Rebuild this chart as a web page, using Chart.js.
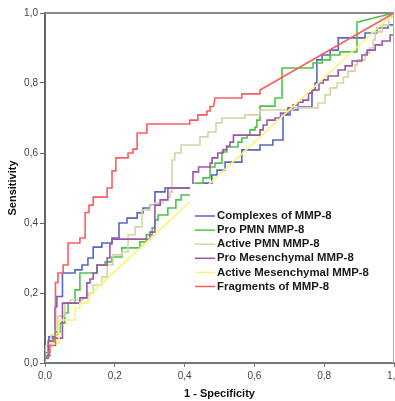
<!DOCTYPE html>
<html>
<head>
<meta charset="utf-8">
<script src="https://cdn.jsdelivr.net/npm/chart.js@4.4.1/dist/chart.umd.min.js"></script>
<style>
html, body { margin: 0; padding: 0; background: #fff; overflow: hidden; }
</style>
</head>
<body>
<canvas id="myChart" width="395" height="401"></canvas>
<script>
// ROC curves, points are [1 - specificity, sensitivity]
const seriesNames = [
    "Complexes of MMP-8",
    "Pro PMN MMP-8",
    "Active PMN MMP-8",
    "Pro Mesenchymal MMP-8",
    "Active Mesenchymal MMP-8",
    "Fragments of MMP-8",
];

const complexes = [[0,0],[0,0.02],[0.011,0.02],[0.011,0.075],[0.029,0.075],[0.029,0.16],[0.034,0.16],[0.034,0.19],[0.05,0.19],[0.05,0.257],[0.086,0.257],[0.086,0.266],[0.106,0.266],[0.106,0.28],[0.123,0.28],[0.123,0.3],[0.138,0.3],[0.138,0.331],[0.163,0.331],[0.163,0.343],[0.192,0.343],[0.192,0.357],[0.212,0.357],[0.212,0.4],[0.235,0.4],[0.235,0.414],[0.264,0.414],[0.264,0.429],[0.281,0.429],[0.281,0.443],[0.301,0.443],[0.301,0.451],[0.315,0.451],[0.315,0.489],[0.344,0.489],[0.344,0.5],[0.45,0.5],[0.45,0.514],[0.478,0.514],[0.478,0.537],[0.493,0.537],[0.493,0.551],[0.516,0.551],[0.516,0.574],[0.564,0.574],[0.564,0.609],[0.616,0.609],[0.616,0.623],[0.653,0.623],[0.653,0.637],[0.682,0.637],[0.682,0.709],[0.702,0.709],[0.702,0.723],[0.725,0.723],[0.725,0.731],[0.765,0.731],[0.765,0.78],[0.774,0.78],[0.774,0.8],[0.779,0.8],[0.779,0.866],[0.794,0.866],[0.794,0.88],[0.817,0.88],[0.817,0.894],[0.84,0.894],[0.84,0.929],[0.917,0.929],[0.917,0.943],[0.951,0.943],[0.951,0.957],[0.983,0.957],[0.983,0.966],[1,0.966],[1,1]];

const proPmn = [[0,0],[0,0.02],[0.014,0.02],[0.014,0.06],[0.029,0.06],[0.029,0.089],[0.043,0.089],[0.043,0.114],[0.057,0.114],[0.057,0.143],[0.066,0.143],[0.066,0.171],[0.086,0.171],[0.086,0.209],[0.1,0.209],[0.1,0.257],[0.149,0.257],[0.149,0.28],[0.172,0.28],[0.172,0.289],[0.192,0.289],[0.192,0.303],[0.22,0.303],[0.22,0.329],[0.272,0.329],[0.272,0.346],[0.29,0.346],[0.29,0.366],[0.307,0.366],[0.307,0.386],[0.315,0.386],[0.315,0.409],[0.324,0.409],[0.324,0.423],[0.352,0.423],[0.352,0.443],[0.375,0.443],[0.375,0.466],[0.39,0.466],[0.39,0.48],[0.43,0.48],[0.43,0.514],[0.453,0.514],[0.453,0.529],[0.473,0.529],[0.473,0.56],[0.487,0.56],[0.487,0.571],[0.507,0.571],[0.507,0.603],[0.521,0.603],[0.521,0.617],[0.553,0.617],[0.553,0.631],[0.564,0.631],[0.564,0.643],[0.579,0.643],[0.579,0.651],[0.587,0.651],[0.587,0.666],[0.602,0.666],[0.602,0.674],[0.607,0.674],[0.607,0.694],[0.616,0.694],[0.616,0.734],[0.659,0.734],[0.659,0.757],[0.679,0.757],[0.679,0.843],[0.768,0.843],[0.768,0.857],[0.794,0.857],[0.794,0.866],[0.817,0.866],[0.817,0.88],[0.845,0.88],[0.845,0.889],[0.894,0.889],[0.894,0.974],[1,1]];

const activePmn = [[0,0],[0,0.049],[0.017,0.049],[0.017,0.08],[0.037,0.08],[0.037,0.134],[0.057,0.134],[0.057,0.171],[0.072,0.171],[0.072,0.18],[0.109,0.18],[0.109,0.186],[0.123,0.186],[0.123,0.2],[0.138,0.2],[0.138,0.223],[0.163,0.223],[0.163,0.246],[0.178,0.246],[0.178,0.28],[0.195,0.28],[0.195,0.309],[0.22,0.309],[0.22,0.317],[0.238,0.317],[0.238,0.366],[0.258,0.366],[0.258,0.389],[0.278,0.389],[0.278,0.437],[0.301,0.437],[0.301,0.451],[0.315,0.451],[0.315,0.457],[0.338,0.457],[0.338,0.466],[0.352,0.466],[0.352,0.474],[0.358,0.474],[0.358,0.489],[0.364,0.489],[0.364,0.58],[0.372,0.58],[0.372,0.6],[0.39,0.6],[0.39,0.623],[0.444,0.623],[0.444,0.646],[0.467,0.646],[0.467,0.66],[0.49,0.66],[0.49,0.686],[0.507,0.686],[0.507,0.7],[0.573,0.7],[0.573,0.709],[0.616,0.709],[0.616,0.723],[0.711,0.723],[0.711,0.729],[0.782,0.729],[0.782,0.743],[0.802,0.743],[0.802,0.766],[0.817,0.766],[0.817,0.786],[0.837,0.786],[0.837,0.8],[0.855,0.8],[0.855,0.817],[0.868,0.817],[0.868,0.834],[0.888,0.834],[0.888,0.851],[0.894,0.851],[0.894,0.866],[0.917,0.866],[0.917,0.886],[0.93,0.886],[0.93,0.9],[0.94,0.9],[0.94,0.923],[0.946,0.923],[0.946,0.946],[0.966,0.946],[0.966,0.966],[0.985,0.966],[0.985,0.989],[1,0.989],[1,1]];

const proMesenchymal = [[0,0],[0,0.014],[0.009,0.014],[0.009,0.063],[0.023,0.063],[0.023,0.071],[0.05,0.071],[0.05,0.171],[0.1,0.171],[0.1,0.186],[0.12,0.186],[0.12,0.229],[0.129,0.229],[0.129,0.24],[0.138,0.24],[0.138,0.257],[0.149,0.257],[0.149,0.28],[0.178,0.28],[0.178,0.3],[0.186,0.3],[0.186,0.34],[0.192,0.34],[0.192,0.354],[0.301,0.354],[0.301,0.374],[0.315,0.374],[0.315,0.451],[0.33,0.451],[0.33,0.466],[0.352,0.466],[0.352,0.5],[0.424,0.5],[0.424,0.546],[0.44,0.546],[0.44,0.56],[0.473,0.56],[0.473,0.571],[0.479,0.571],[0.479,0.586],[0.495,0.586],[0.495,0.6],[0.51,0.6],[0.51,0.609],[0.52,0.609],[0.52,0.62],[0.53,0.62],[0.53,0.631],[0.54,0.631],[0.54,0.651],[0.616,0.651],[0.616,0.666],[0.625,0.666],[0.625,0.68],[0.636,0.68],[0.636,0.694],[0.659,0.694],[0.659,0.7],[0.675,0.7],[0.675,0.714],[0.696,0.714],[0.696,0.729],[0.71,0.729],[0.71,0.737],[0.725,0.737],[0.725,0.745],[0.739,0.745],[0.739,0.751],[0.755,0.751],[0.755,0.771],[0.765,0.771],[0.765,0.78],[0.785,0.78],[0.785,0.8],[0.797,0.8],[0.797,0.809],[0.811,0.809],[0.811,0.82],[0.84,0.82],[0.84,0.837],[0.86,0.837],[0.86,0.849],[0.88,0.849],[0.88,0.863],[0.908,0.863],[0.908,0.88],[0.923,0.88],[0.923,0.894],[0.946,0.894],[0.946,0.909],[0.966,0.909],[0.966,0.92],[0.989,0.92],[0.989,0.937],[1,0.937],[1,1]];

const activeMesenchymal = [[0,0],[0,0.03],[0.014,0.03],[0.014,0.057],[0.04,0.057],[0.04,0.123],[0.086,0.123],[0.086,0.157],[0.1,0.157],[0.1,0.171],[0.123,0.171],[0.13,0.197],[1,1]];

const fragments = [[0,0],[0,0.03],[0.014,0.03],[0.014,0.05],[0.03,0.05],[0.03,0.23],[0.037,0.23],[0.037,0.257],[0.052,0.257],[0.052,0.28],[0.066,0.28],[0.066,0.343],[0.1,0.343],[0.1,0.357],[0.115,0.357],[0.115,0.43],[0.126,0.43],[0.126,0.451],[0.138,0.451],[0.138,0.474],[0.178,0.474],[0.178,0.5],[0.192,0.5],[0.192,0.549],[0.203,0.549],[0.203,0.586],[0.238,0.586],[0.238,0.6],[0.252,0.6],[0.252,0.611],[0.264,0.611],[0.264,0.657],[0.292,0.657],[0.292,0.683],[0.415,0.683],[0.415,0.694],[0.438,0.694],[0.438,0.709],[0.464,0.709],[0.464,0.72],[0.473,0.72],[0.473,0.733],[0.483,0.733],[0.487,0.757],[0.564,0.757],[0.564,0.769],[0.616,0.769],[0.616,0.78],[1,1]];

const tickValues = [0, 0.2, 0.4, 0.6, 0.8, 1.0];

const colors = ['#5566c4', '#4cc44c', '#d8d2a6', '#9a55aa', '#f6f67a', '#ff5c5c'];
const allSeries = [complexes, proPmn, activePmn, proMesenchymal, activeMesenchymal, fragments];

const fontName = '"Liberation Sans", Arial, sans-serif';
const fmt = v => v.toFixed(1).replace('.', ',');

// white legend box inside the plot, like the SPSS output
const legendInPlot = {
    id: 'legendInPlot',
    afterDatasetsDraw(chart) {
        const ctx = chart.ctx;
        const area = chart.chartArea;
        const bx = area.left + 145, by = area.top + 171;
        ctx.save();
        ctx.fillStyle = '#ffffff';
        ctx.fillRect(bx, by, 190, 115);
        ctx.font = 'bold 11.4px ' + fontName;
        ctx.textBaseline = 'middle';
        chart.data.datasets.forEach((ds, i) => {
            const y = by + 32 + i * 14.1;
            ctx.strokeStyle = ds.borderColor;
            ctx.lineWidth = 1.5;
            ctx.beginPath();
            ctx.moveTo(bx + 5, y);
            ctx.lineTo(bx + 25, y);
            ctx.stroke();
            ctx.fillStyle = '#1a1a1a';
            ctx.fillText(ds.label, bx + 27, y);
        });
        ctx.restore();
    },
    afterDraw(chart) {
        // top and right frame lines
        const ctx = chart.ctx;
        const a = chart.chartArea;
        ctx.save();
        ctx.strokeStyle = '#8a8a8a';
        ctx.lineWidth = 2;
        ctx.beginPath();
        ctx.moveTo(a.left, a.top);
        ctx.lineTo(a.right, a.top);
        ctx.stroke();
        ctx.strokeStyle = '#b0b0b0';
        ctx.lineWidth = 1;
        ctx.beginPath();
        ctx.moveTo(a.right - 0.5, a.top);
        ctx.lineTo(a.right - 0.5, a.bottom);
        ctx.stroke();
        ctx.restore();
    }
};

const graph_data = {
    datasets: allSeries.map((pts, i) => ({
        label: seriesNames[i],
        data: pts.map(p => ({x: p[0], y: p[1]})),
        borderColor: colors[i],
        backgroundColor: colors[i],
        borderWidth: 1.6,
        pointRadius: 0,
        fill: false,
        tension: 0,
        order: 6 - i
    }))
};

const config = {
    type: 'line',
    data: graph_data,
    options: {
        responsive: false,
        animation: false,
        layout: { padding: { top: 13, right: 1, left: 0, bottom: 0 } },
        plugins: {
            legend: { display: false },
            tooltip: { enabled: false }
        },
        scales: {
            x: {
                type: 'linear',
                min: 0,
                max: 1,
                afterBuildTicks: s => { s.ticks = tickValues.map(v => ({value: v})); },
                afterFit: s => { s.height = 38; s.paddingLeft = 0; s.paddingRight = 0; },
                ticks: {
                    callback: v => fmt(v),
                    color: '#444',
                    font: { family: fontName, size: 10 },
                    padding: 3,
                    maxRotation: 0
                },
                grid: { drawOnChartArea: false, drawTicks: true, tickLength: 4, color: '#777', lineWidth: 1 },
                border: { color: '#777', width: 2 },
                title: {
                    display: true,
                    text: '1 - Specificity',
                    color: '#111',
                    font: { family: fontName, size: 11, weight: 'bold' },
                    padding: { top: 2, bottom: 0 }
                }
            },
            y: {
                type: 'linear',
                min: 0,
                max: 1,
                afterBuildTicks: s => { s.ticks = tickValues.map(v => ({value: v})); },
                afterFit: s => { s.width = 45; s.paddingTop = 0; s.paddingBottom = 0; },
                ticks: {
                    callback: v => fmt(v),
                    color: '#444',
                    font: { family: fontName, size: 10 },
                    padding: 2
                },
                grid: { drawOnChartArea: false, drawTicks: true, tickLength: 5, color: '#666', lineWidth: 1 },
                border: { color: '#666', width: 2 },
                title: {
                    display: true,
                    text: 'Sensitivity',
                    color: '#111',
                    font: { family: fontName, size: 11, weight: 'bold' },
                    padding: { top: 6, bottom: 2 }
                }
            }
        }
    },
    plugins: [legendInPlot]
};

var ctx = document.getElementById('myChart').getContext('2d');
var myChart = new Chart(ctx, config);
</script>
</body>
</html>
